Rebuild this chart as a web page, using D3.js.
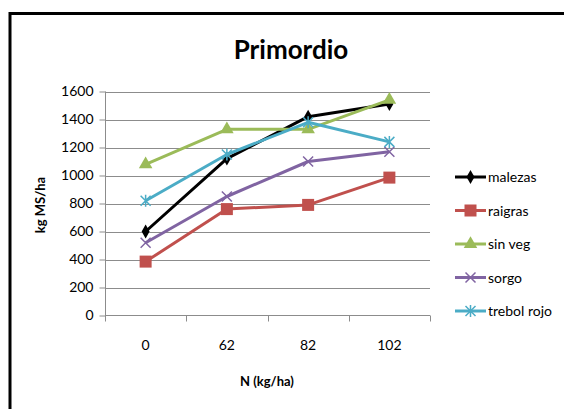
<!DOCTYPE html>
<html><head><meta charset="utf-8">
<script src="https://cdn.jsdelivr.net/npm/d3@7"></script>
<style>html,body{margin:0;padding:0;background:#fff;}svg{display:block;}</style>
</head><body>
<svg id="c" width="564" height="409"></svg>
<script>
const categories = ["0", "62", "82", "102"];
const seriesNames = ["malezas", "raigras", "sin veg", "sorgo", "trebol rojo"];
const malezas = [600, 1120, 1420, 1510];
const raigras = [385, 760, 790, 985];
const sinVeg = [1080, 1330, 1330, 1540];
const sorgo = [520, 850, 1100, 1170];
const trebolRojo = [820, 1150, 1380, 1240];
const yTicks = [0, 200, 400, 600, 800, 1000, 1200, 1400, 1600];
const colors = ["#000000", "#C0504D", "#9BBB59", "#8064A2", "#4BACC6"];
const markers = ["diamond", "square", "triangle", "x", "asterisk"];
const seriesValues = [malezas, raigras, sinVeg, sorgo, trebolRojo];

const svg = d3.select("#c");
const font = "Lato, 'Liberation Sans', Arial, sans-serif";

// chart frame (thick border)
svg.append("path").attr("d", "M10,409 V13.5 H564").attr("fill", "none").attr("stroke", "#000").attr("stroke-width", 3);

const x = d3.scaleBand().domain(categories).range([105, 430]);
const y = d3.scaleLinear().domain([0, 1600]).range([315.5, 91.5]);

// gridlines
svg.append("g").selectAll("line").data(yTicks.slice(1)).join("line")
  .attr("x1", 105).attr("x2", 430).attr("y1", d => Math.round(y(d)) + 0.5).attr("y2", d => Math.round(y(d)) + 0.5)
  .attr("stroke", "#8c8c8c").attr("stroke-width", 1);

// y axis
const ya = svg.append("g").attr("transform", "translate(105.5,0)")
  .call(d3.axisLeft(y).tickValues(yTicks).tickSize(6).tickPadding(6).tickFormat(d3.format("d")));
ya.select(".domain").attr("stroke", "#8c8c8c").attr("d", `M0,${y(1600)}V${y(0)}`);
ya.selectAll(".tick line").attr("stroke", "#8c8c8c");
ya.selectAll("text").attr("font-family", font).attr("font-size", 14).attr("fill", "#000");

// x axis
const xa = svg.append("g").attr("transform", `translate(0,${y(0)})`)
  .call(d3.axisBottom(x).tickSize(0).tickPadding(25));
xa.select(".domain").attr("stroke", "#8c8c8c").attr("d", "M105,0H430");
xa.selectAll("text").attr("font-family", font).attr("font-size", 14).attr("fill", "#000");
// category boundary ticks
svg.append("g").selectAll("line").data(categories.concat(["end"])).join("line")
  .attr("x1", (d, i) => Math.round(105 + i * x.bandwidth()) + 0.5)
  .attr("x2", (d, i) => Math.round(105 + i * x.bandwidth()) + 0.5)
  .attr("y1", y(0)).attr("y2", y(0) + 6)
  .attr("stroke", "#8c8c8c");

// titles
svg.append("text").attr("x", 291).attr("y", 59).attr("text-anchor", "middle")
  .attr("font-family", font).attr("font-weight", "bold").attr("font-size", 26).text("Primordio");
svg.append("text").attr("transform", "translate(45,205) rotate(-90)").attr("text-anchor", "middle")
  .attr("font-family", font).attr("font-weight", "bold").attr("font-size", 13).text("kg MS/ha");
svg.append("text").attr("x", 267).attr("y", 386).attr("text-anchor", "middle")
  .attr("font-family", font).attr("font-weight", "bold").attr("font-size", 13).text("N (kg/ha)");

function drawMarker(g, type, cx, cy, color) {
  if (type === "diamond") {
    g.append("path").attr("d", d3.symbol(d3.symbolDiamond, 55)()).attr("transform", `translate(${cx},${cy})`).attr("fill", color);
  } else if (type === "square") {
    g.append("rect").attr("x", cx - 6).attr("y", cy - 6).attr("width", 12).attr("height", 12).attr("fill", color);
  } else if (type === "triangle") {
    g.append("path").attr("d", d3.symbol(d3.symbolTriangle, 80)()).attr("transform", `translate(${cx},${cy})`).attr("fill", color);
  } else if (type === "x") {
    g.append("path").attr("d", `M${cx-5},${cy-5}L${cx+5},${cy+5}M${cx-5},${cy+5}L${cx+5},${cy-5}`).attr("stroke", color).attr("stroke-width", 1.5);
  } else if (type === "asterisk") {
    g.append("path").attr("d", `M${cx-5},${cy-5}L${cx+5},${cy+5}M${cx-5},${cy+5}L${cx+5},${cy-5}M${cx},${cy-6}V${cy+6}`).attr("stroke", color).attr("stroke-width", 1.5);
  }
}

const line = d3.line().x((d, i) => x(categories[i]) + x.bandwidth() / 2).y(d => y(d));
seriesValues.forEach((vals, s) => {
  const g = svg.append("g");
  g.append("path").attr("d", line(vals)).attr("fill", "none").attr("stroke", colors[s]).attr("stroke-width", 3).attr("stroke-linejoin", "round");
  vals.forEach((v, i) => drawMarker(g, markers[s], x(categories[i]) + x.bandwidth() / 2, y(v), colors[s]));
});

// legend
seriesNames.forEach((name, s) => {
  const ly = 177 + s * 33.5;
  const g = svg.append("g");
  g.append("line").attr("x1", 455).attr("x2", 486).attr("y1", ly).attr("y2", ly).attr("stroke", colors[s]).attr("stroke-width", 3);
  drawMarker(g, markers[s], 470.5, ly, colors[s]);
  g.append("text").attr("x", 488).attr("y", ly + 5).attr("font-family", font).attr("font-size", 14).text(name);
});
</script>
</body></html>
